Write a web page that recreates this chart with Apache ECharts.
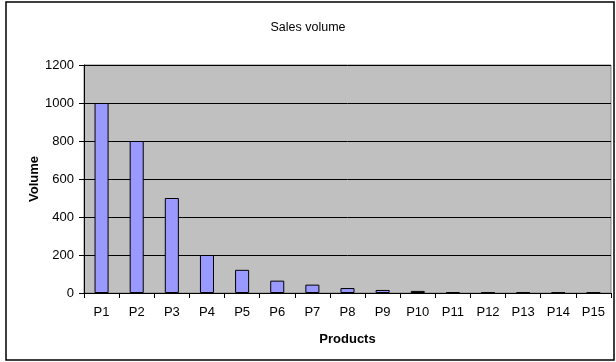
<!DOCTYPE html>
<html>
<head>
<meta charset="utf-8">
<script src="https://cdn.jsdelivr.net/npm/echarts@6/dist/echarts.min.js"></script>
<style>
  html, body { margin: 0; padding: 0; background: #fff; }
  #chart { width: 616px; height: 362px; }
</style>
</head>
<body>
<div id="chart"></div>
<script>
// data
const products = ['P1', 'P2', 'P3', 'P4', 'P5', 'P6', 'P7', 'P8', 'P9', 'P10', 'P11', 'P12', 'P13', 'P14', 'P15'];
const volumes = [1000, 800, 500, 200, 122, 65, 44, 26, 16, 11, 5, 4, 4, 3, 3];
const yTicks = [0, 200, 400, 600, 800, 1000, 1200];

const myChart = echarts.init(document.getElementById('chart'));
const font = 'Liberation Sans, Arial, sans-serif';

const option = {
    animation: false,
    backgroundColor: '#fff',
    textStyle: { fontFamily: font },
    title: {
        text: 'Sales volume',
        left: 'center',
        top: 16,
        textStyle: { fontSize: 12.5, fontWeight: 'normal', color: '#000', fontFamily: font }
    },
    // outer chart frame
    graphic: [{
        type: 'rect',
        shape: { x: 6, y: 2, width: 608, height: 358 },
        style: { fill: 'none', stroke: '#000', lineWidth: 1.5 },
        silent: true
    }],
    grid: {
        left: 84,
        right: 5,
        top: 65,
        bottom: 69,
        show: true,
        backgroundColor: '#C0C0C0',
        borderColor: '#808080',
        borderWidth: 1
    },
    xAxis: {
        type: 'category',
        data: products,
        name: 'Products',
        nameLocation: 'middle',
        nameGap: 40,
        nameTextStyle: { fontSize: 13, fontWeight: 'bold', color: '#000', fontFamily: font },
        axisLine: { lineStyle: { color: '#000', width: 1 } },
        axisTick: { show: true, length: 5, lineStyle: { color: '#000' } },
        axisLabel: { color: '#000', fontSize: 13, margin: 13, interval: 0, fontFamily: font },
        splitLine: { show: false }
    },
    yAxis: {
        type: 'value',
        min: yTicks[0],
        max: yTicks[yTicks.length - 1],
        interval: yTicks[1] - yTicks[0],
        name: 'Volume',
        nameLocation: 'middle',
        nameGap: 43,
        nameMoveOverlap: false,
        nameTextStyle: { fontSize: 13, fontWeight: 'bold', color: '#000', fontFamily: font },
        axisLine: { show: true, lineStyle: { color: '#000', width: 1 } },
        axisTick: { show: true, length: 5, lineStyle: { color: '#000' } },
        axisLabel: { color: '#000', fontSize: 13, margin: 10, fontFamily: font, formatter: v => String(v) },
        splitLine: { show: true, lineStyle: { color: '#000', width: 1 } }
    },
    series: [{
        type: 'bar',
        data: volumes,
        barWidth: '40%',
        itemStyle: {
            color: '#9999FF',
            borderColor: '#000',
            borderWidth: 1
        }
    }]
};

myChart.setOption(option);
</script>
</body>
</html>
